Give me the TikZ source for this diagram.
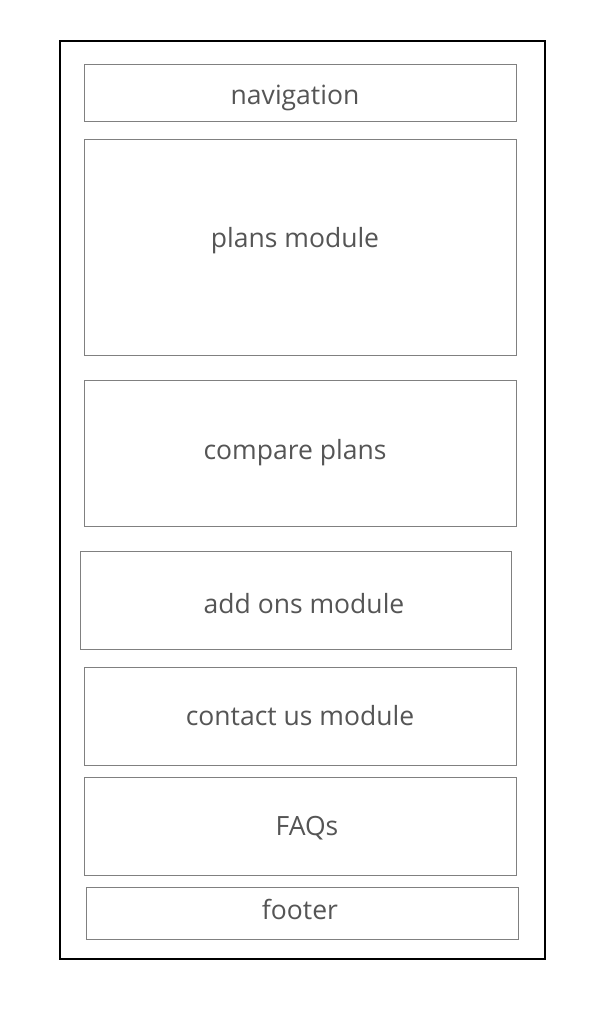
\documentclass[tikz,border=0pt]{standalone}
\usepackage{fontspec}
\setmainfont{Open Sans}
\definecolor{boxgray}{HTML}{808080}
\definecolor{txtgray}{HTML}{555555}
\begin{document}
\begin{tikzpicture}[x=1pt,y=-1pt,
  outerbox/.style={draw=black,line width=2pt},
  modbox/.style={draw=boxgray,line width=1pt},
  lbl/.style={text=txtgray,font=\fontsize{26.5}{30}\selectfont,inner sep=0pt,anchor=center}]
\useasboundingbox[fill=white] (0,0) rectangle (614,1024);
\draw[outerbox] (60,41) rectangle (545,959);
\draw[modbox] (84,65) rectangle (516,122);
\draw[modbox] (84,140) rectangle (516,355);
\draw[modbox] (84,380) rectangle (516,526);
\draw[modbox] (80,551) rectangle (511,649);
\draw[modbox] (84,667) rectangle (516,765);
\draw[modbox] (84,777) rectangle (516,875);
\draw[modbox] (86,887) rectangle (518,939);
\node[lbl] (nav) at (295,98) {navigation};
\node[lbl] (plans) at (295,241) {plans module};
\node[lbl] (compare) at (295,453) {compare plans};
\node[lbl] (addons) at (304,604) {add ons module};
\node[lbl] (contact) at (300,716) {contact us module};
\node[lbl] (faqs) at (307,828) {FAQs};
\node[lbl] (footer) at (300,909) {footer};
\end{tikzpicture}
\end{document}
